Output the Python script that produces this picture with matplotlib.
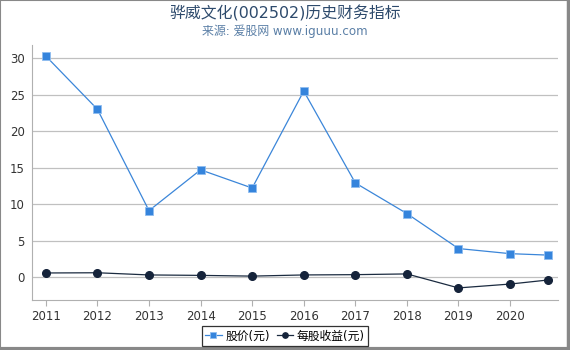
import matplotlib
matplotlib.use("Agg")
import matplotlib.pyplot as plt
from matplotlib.patches import Rectangle
from matplotlib.lines import Line2D

plt.rcParams['font.family'] = ['DejaVu Sans', 'Noto Sans CJK SC']

years = [2011, 2012, 2013, 2014, 2015, 2016, 2017, 2018, 2019, 2020, 2020.74]
xtick_labels = ['2011', '2012', '2013', '2014', '2015', '2016', '2017', '2018', '2019', '2020']
price = [30.3, 23.0, 9.1, 14.7, 12.2, 25.5, 12.9, 8.7, 3.9, 3.2, 3.0]
eps = [0.55, 0.58, 0.28, 0.22, 0.12, 0.28, 0.32, 0.42, -1.5, -0.97, -0.41]

fig = plt.figure(figsize=(5.7, 3.5), dpi=100)
ax = fig.add_axes([0.056, 0.143, 0.923, 0.728])

ax.plot(years, price, color='#3b86d9', lw=0.9, marker='s', ms=5.5,
        markerfacecolor='#3584dc', markeredgecolor='#8fbdf0', markeredgewidth=0.6,
        label='股价(元)', zorder=3)
ax.plot(years, eps, color='#1b2b40', lw=0.9, marker='o', ms=5.5,
        markerfacecolor='#15233a', markeredgecolor='#15233a',
        label='每股收益(元)', zorder=3)

ax.set_xlim(2010.73, 2020.93)
ax.set_ylim(-3.15, 31.8)
ax.set_xticks(list(range(2011, 2021)))
ax.set_xticklabels(xtick_labels)
ax.set_yticks([0, 5, 10, 15, 20, 25, 30])
ax.grid(axis='y', color='#c0c0c0', lw=0.9)
ax.set_axisbelow(True)
for s in ['top', 'right']:
    ax.spines[s].set_visible(False)
for s in ['left', 'bottom']:
    ax.spines[s].set_color('#b0b0b0')
ax.tick_params(axis='both', labelsize=8.5, colors='#333333', length=4, color='#b0b0b0')
ax.tick_params(axis='y', length=0, pad=5)

fig.text(0.5, 0.963, '骅威文化(002502)历史财务指标', ha='center', va='center',
         fontsize=11.4, color='#2d4a6c')
fig.text(0.5, 0.911, '来源: 爱股网 www.iguuu.com', ha='center', va='center',
         fontsize=8.6, color='#5a7fa6')

leg = fig.legend(loc='center', bbox_to_anchor=(0.5, 0.04), ncol=2, fontsize=8.5,
                 frameon=True, fancybox=False, edgecolor='black', handlelength=1.4,
                 handletextpad=0.3, columnspacing=0.6, borderpad=0.3, markerscale=0.7)
leg.get_frame().set_linewidth(0.9)

fig.patches.append(Rectangle((0.0, 0.0), 1.0, 1.0, transform=fig.transFigure,
                             fill=False, edgecolor='#888888', lw=1.5))
fig.lines.append(Line2D([0, 1], [0.003, 0.003], transform=fig.transFigure,
                        color='#888888', lw=3))
fig.lines.append(Line2D([0.997, 0.997], [0, 1], transform=fig.transFigure,
                        color='#888888', lw=2.5))

fig.savefig('out.png', dpi=100)
